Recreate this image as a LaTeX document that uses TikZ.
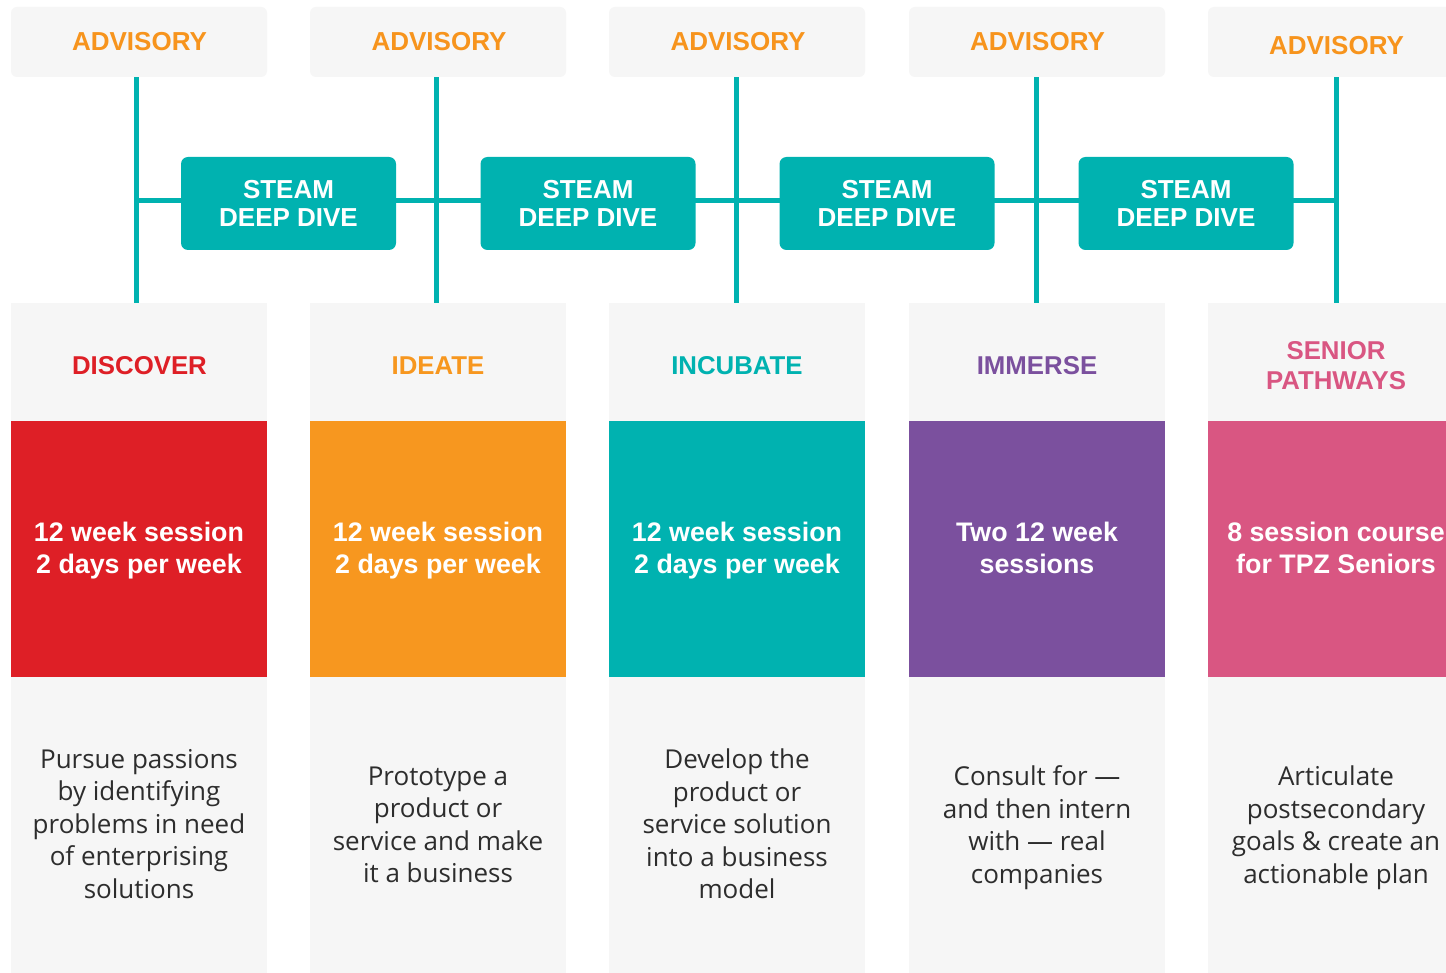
\documentclass[tikz,border=0pt]{standalone}
\usepackage{fontspec}
\setmainfont{Liberation Sans}
\newfontfamily\lightfont{Open Sans}
\definecolor{tealc}{RGB}{0,178,176}
\definecolor{boxgray}{RGB}{246,246,246}
\definecolor{advorange}{RGB}{247,148,29}
\definecolor{cred}{RGB}{222,31,38}
\definecolor{corange}{RGB}{247,151,31}
\definecolor{cpurple}{RGB}{123,80,158}
\definecolor{cpink}{RGB}{217,86,130}
\definecolor{desccol}{RGB}{45,45,45}
\tikzset{
  advbox/.style={fill=boxgray, rounded corners=6pt, minimum width=256pt, minimum height=70pt, inner sep=0pt},
  advtext/.style={text=advorange, font=\fontsize{26}{28}\selectfont\bfseries, inner sep=0pt},
  steambox/.style={fill=tealc, rounded corners=7pt, minimum width=215pt, minimum height=93pt, inner sep=0pt,
    text=white, align=center, font=\fontsize{26}{28}\selectfont\bfseries},
  titbox/.style={fill=boxgray, minimum width=256pt, minimum height=118pt, inner sep=0pt},
  tittext/.style={align=center, font=\fontsize{25.8}{30}\selectfont\bfseries, inner sep=0pt},
  colbox/.style={minimum width=256pt, minimum height=256pt, inner sep=0pt},
  coltext/.style={text=white, align=center, inner sep=0pt, font=\fontsize{26.8}{32}\selectfont\bfseries},
  descbox/.style={fill=boxgray, minimum width=256pt, minimum height=296pt, inner sep=0pt},
  desctext/.style={text=desccol, align=center, inner sep=0pt, font=\lightfont\fontsize{26}{32.5}\selectfont},
  tline/.style={draw=tealc, line width=5pt}
}
\begin{document}
\begin{tikzpicture}[x=1pt,y=-1pt]
\useasboundingbox (0,0) rectangle (1446,973);
\clip (0,0) rectangle (1446,973);
\fill[white] (0,0) rectangle (1446,973);

% advisory boxes
\node[advbox] (adv1) at (139,42) {};
\node[advbox] (adv2) at (438,42) {};
\node[advbox] (adv3) at (737,42) {};
\node[advbox] (adv4) at (1037,42) {};
\node[advbox] (adv5) at (1336,42) {};
\node[advtext] (advt1) at (139.5,42) {ADVISORY};
\node[advtext] (advt2) at (439,42) {ADVISORY};
\node[advtext] (advt3) at (738,42) {ADVISORY};
\node[advtext] (advt4) at (1037.5,42) {ADVISORY};
\node[advtext] (advt5) at (1336.5,46) {ADVISORY};

% title boxes
\node[titbox] (tit1) at (139,362) {};
\node[titbox] (tit2) at (438,362) {};
\node[titbox] (tit3) at (737,362) {};
\node[titbox] (tit4) at (1037,362) {};
\node[titbox] (tit5) at (1336,362) {};
\node[tittext, text=cred] (titt1) at (139.5,366) {DISCOVER};
\node[tittext, text=corange] (titt2) at (438,366) {IDEATE};
\node[tittext, text=tealc] (titt3) at (737,366) {INCUBATE};
\node[tittext, text=cpurple] (titt4) at (1037,366) {IMMERSE};
\node[tittext, text=cpink] (titt5) at (1336,366) {SENIOR\\PATHWAYS};

% coloured boxes
\node[colbox, fill=cred] (col1) at (139,549) {};
\node[colbox, fill=corange] (col2) at (438,549) {};
\node[colbox, fill=tealc] (col3) at (737,549) {};
\node[colbox, fill=cpurple] (col4) at (1037,549) {};
\node[colbox, fill=cpink] (col5) at (1336,549) {};
\node[coltext] (colt1) at (139,551) {12 week session\\2 days per week};
\node[coltext] (colt2) at (438,551) {12 week session\\2 days per week};
\node[coltext] (colt3) at (737,551) {12 week session\\2 days per week};
\node[coltext] (colt4) at (1037,548) {Two 12 week\\sessions};
\node[coltext] (colt5) at (1336,548) {8 session course\\for TPZ Seniors};

% description boxes
\node[descbox] (desc1) at (139,825) {};
\node[descbox] (desc2) at (438,825) {};
\node[descbox] (desc3) at (737,825) {};
\node[descbox] (desc4) at (1037,825) {};
\node[descbox] (desc5) at (1336,825) {};
\node[desctext] (dt1) at (139,824) {Pursue passions\\by identifying\\problems in need\\of enterprising\\solutions};
\node[desctext] (dt2) at (438,825) {Prototype a\\product or\\service and make\\it a business};
\node[desctext] (dt3) at (737,824) {Develop the\\product or\\service solution\\into a business\\model};
\node[desctext] (dt4) at (1037,827.5) {Consult for —\\and then intern\\with — real\\companies};
\node[desctext] (dt5) at (1336,827.5) {Articulate\\postsecondary\\goals \& create an\\actionable plan};

% junctions
\coordinate (j1) at (136,201);
\coordinate (j2) at (436,201);
\coordinate (j3) at (736,201);
\coordinate (j4) at (1036,201);
\coordinate (j5) at (1336,201);

% teal lines
\draw[tline] (adv1.south -| j1) -- (tit1.north -| j1);
\draw[tline] (adv2.south -| j2) -- (tit2.north -| j2);
\draw[tline] (adv3.south -| j3) -- (tit3.north -| j3);
\draw[tline] (adv4.south -| j4) -- (tit4.north -| j4);
\draw[tline] (adv5.south -| j5) -- (tit5.north -| j5);
\draw[tline] (j1) -- (j5);

% steam boxes
\node[steambox] (st1) at (288.5,203.5) {STEAM\\DEEP DIVE};
\node[steambox] (st2) at (588,203.5) {STEAM\\DEEP DIVE};
\node[steambox] (st3) at (887,203.5) {STEAM\\DEEP DIVE};
\node[steambox] (st4) at (1186,203.5) {STEAM\\DEEP DIVE};
\end{tikzpicture}
\end{document}
